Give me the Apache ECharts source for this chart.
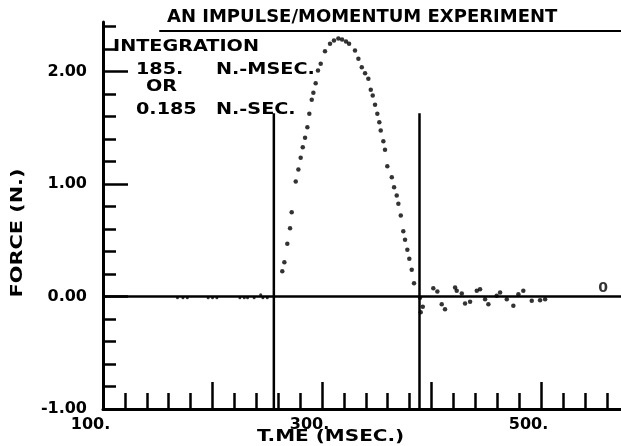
<!DOCTYPE html>
<html>
<head>
<meta charset="utf-8">
<script src="https://cdn.jsdelivr.net/npm/echarts@6/dist/echarts.min.js"></script>
<style>html,body{margin:0;padding:0;background:#fff}#c{width:621px;height:446px}</style>
</head>
<body>
<div id="c"></div>
<script>
// ---- data ----
const titleText = 'AN IMPULSE/MOMENTUM EXPERIMENT';
const xName = 'T.ME (MSEC.)';
const yName = 'FORCE (N.)';
const xLabelValues = [100, 300, 500];
const yLabelValues = [-1, 0, 1, 2];
const pulseTime = [263.7,265.6,268.3,270.8,272.3,276.0,278.4,280.5,282.4,284.5,286.6,288.4,290.6,292.1,294.2,296.3,298.8,302.7,307.3,310.9,314.9,318.3,321.9,324.7,330.1,333.2,336.3,339.3,342.3,344.5,346.3,348.4,350.5,352.3,353.6,356.0,357.5,359.6,363.7,365.8,368.2,369.7,371.9,374.2,375.8,377.9,379.7,381.9,384.0];
const pulseForce = [0.225,0.305,0.468,0.607,0.749,1.022,1.129,1.233,1.327,1.411,1.505,1.624,1.748,1.811,1.896,2.009,2.068,2.180,2.246,2.276,2.293,2.284,2.267,2.246,2.187,2.113,2.038,1.985,1.935,1.837,1.787,1.704,1.624,1.549,1.476,1.380,1.304,1.158,1.060,0.972,0.898,0.824,0.720,0.580,0.504,0.415,0.335,0.237,0.118];
const ringTime = [389.5,390.1,392.0,401.6,405.3,409.3,412.3,421.5,423.0,427.6,430.6,435.2,441.3,444.3,448.9,451.9,459.5,462.6,468.7,474.7,479.3,483.8,491.5,499.1,503.7];
const ringForce = [-0.01,-0.14,-0.09,0.074,0.044,-0.068,-0.113,0.080,0.051,0.027,-0.062,-0.047,0.051,0.065,-0.024,-0.068,0.006,0.036,-0.024,-0.083,0.020,0.051,-0.038,-0.033,-0.024];
const baseTime = [168,173,177,196,200,204,225,229,232,238,244,246,250];
const baseForce = [-0.01,-0.012,-0.01,-0.01,-0.012,-0.01,-0.01,-0.012,-0.01,-0.01,0.015,-0.01,-0.01];
const boundTimes = [256, 389];
const boundTop = 1.63;
const zeroLineTime = [100, 573];
const endMarkTime = 556.6;
const endMarkForce = 0.07;
const endMarkText = '0';
const noteLines = ['INTEGRATION', '185.', 'N.-MSEC.', 'OR', '0.185', 'N.-SEC.'];

// ---- axis ranges and tick values ----
const xMin = 100, xMax = 573, xMinorStep = 20, xMajorStep = 100, xLastMajor = 500;
const yMin = -1, yMax = 2.44;
const xMinorTicks = [];
for (let k = 0; xMin + k * xMinorStep < xMax; k++) xMinorTicks.push(xMin + k * xMinorStep);
const xMajorTicks = [];
for (let v = xMin; v <= xLastMajor; v += xMajorStep) xMajorTicks.push(v);
const yMinorTicks = [];
for (let k = -5; k <= 12; k++) yMinorTicks.push(Math.round(k * 2) / 10);

// ---- chart ----
const FONT = 'DejaVu Sans';
const INK = '#000';
const chart = echarts.init(document.getElementById('c'), null, {renderer: 'canvas'});

const pulse = pulseTime.map((t, i) => [t, pulseForce[i]]);
const ring = ringTime.map((t, i) => [t, ringForce[i]]);
const base = baseTime.map((t, i) => [t, baseForce[i]]);
const zeroLine = zeroLineTime.map(t => [t, 0]);

const boundSeries = boundTimes.map(t => ({
  type: 'line', xAxisIndex: 0, yAxisIndex: 0,
  data: [[t, yMin], [t, boundTop]],
  symbol: 'none', lineStyle: {color: INK, width: 2.5}, silent: true, z: 3
}));

const noteFont = 'bold 16px "DejaVu Sans"';
function note(text, left, top, sx) {
  return {type: 'text', x: left, y: top, scaleX: sx, scaleY: 1,
    style: {text: text, font: noteFont, fill: INK, align: 'left', verticalAlign: 'top'}};
}

chart.setOption({
  animation: false,
  backgroundColor: '#fff',
  title: {
    text: titleText, left: 162, top: 3,
    textStyle: {fontFamily: FONT, fontWeight: 'bold', fontSize: 18, color: INK}
  },
  grid: [
    {left: 103, right: 0, top: 22, bottom: 37},
    {left: 160, right: 0, top: 21, height: 10}
  ],
  xAxis: [
    {
      type: 'value', gridIndex: 0, min: xMin, max: xMax, position: 'bottom',
      axisLine: {show: true, onZero: false, lineStyle: {color: INK, width: 3}},
      axisTick: {show: true, inside: true, length: 16, customValues: xMinorTicks, lineStyle: {color: INK, width: 2.5}},
      splitLine: {show: false},
      axisLabel: {show: false}
    },
    {
      type: 'value', gridIndex: 0, min: xMin, max: xMax, position: 'bottom',
      axisLine: {show: false, onZero: false},
      axisTick: {show: true, inside: true, length: 27, customValues: xMajorTicks, lineStyle: {color: INK, width: 2.5}},
      splitLine: {show: false},
      axisLabel: {
        customValues: xLabelValues,
        formatter: v => v + '.',
        fontFamily: FONT, fontWeight: 'bold', fontSize: 16, color: INK,
        margin: 8, padding: [0, 25, 0, 0]
      }
    },
    {
      type: 'value', gridIndex: 1, min: 0, max: 1, position: 'top',
      axisLine: {show: true, lineStyle: {color: INK, width: 2}},
      axisTick: {show: false}, axisLabel: {show: false}, splitLine: {show: false}
    }
  ],
  yAxis: [
    {
      type: 'value', gridIndex: 0, min: yMin, max: yMax, position: 'left',
      axisLine: {show: true, onZero: false, lineStyle: {color: INK, width: 3}},
      axisTick: {show: true, inside: true, length: 13, customValues: yMinorTicks, lineStyle: {color: INK, width: 2.5}},
      axisLabel: {show: false}, splitLine: {show: false}
    },
    {
      type: 'value', gridIndex: 0, min: yMin, max: yMax, position: 'left',
      axisLine: {show: false, onZero: false},
      axisTick: {show: true, inside: true, length: 25, customValues: yLabelValues, lineStyle: {color: INK, width: 2.5}},
      splitLine: {show: false},
      axisLabel: {
        customValues: yLabelValues,
        formatter: v => (v < 0 ? '-' : '') + Math.abs(v).toFixed(2),
        fontFamily: FONT, fontWeight: 'bold', fontSize: 16, color: INK, margin: 16
      }
    },
    {type: 'value', gridIndex: 1, show: false, min: 0, max: 1}
  ],
  graphic: [
    note(noteLines[0], 113, 39, 1.2),
    note(noteLines[1], 136, 62, 1.2),
    note(noteLines[2], 216, 62, 1.2),
    note(noteLines[3], 146, 79, 1.2),
    note(noteLines[4], 136, 102, 1.2),
    note(noteLines[5], 216, 102, 1.2),
    note(xName, 257, 429, 1.25),
    {type: 'text', x: 26, y: 233, rotation: Math.PI / 2, scaleX: 1.3,
      style: {text: yName, font: 'bold 16px "DejaVu Sans"', fill: INK, align: 'center', verticalAlign: 'bottom'}}
  ],
  series: [
    {
      type: 'line', xAxisIndex: 0, yAxisIndex: 0, data: zeroLine,
      symbol: 'none', lineStyle: {color: INK, width: 2.5}, silent: true, z: 3
    },
    ...boundSeries,
    {
      type: 'scatter', xAxisIndex: 0, yAxisIndex: 0, data: pulse,
      symbolSize: 4.5, itemStyle: {color: INK}, z: 4
    },
    {
      type: 'scatter', xAxisIndex: 0, yAxisIndex: 0, data: ring,
      symbolSize: 4.5, itemStyle: {color: INK}, z: 4
    },
    {
      type: 'scatter', xAxisIndex: 0, yAxisIndex: 0, data: base,
      symbolSize: 3, itemStyle: {color: INK}, z: 4
    },
    {
      type: 'scatter', xAxisIndex: 0, yAxisIndex: 0, data: [[endMarkTime, endMarkForce]],
      symbolSize: 1, itemStyle: {color: 'rgba(0,0,0,0)'},
      label: {show: true, position: 'inside', formatter: endMarkText,
        fontFamily: FONT, fontWeight: 'bold', fontSize: 14, color: INK}
    }
  ]
});
</script>
</body>
</html>
